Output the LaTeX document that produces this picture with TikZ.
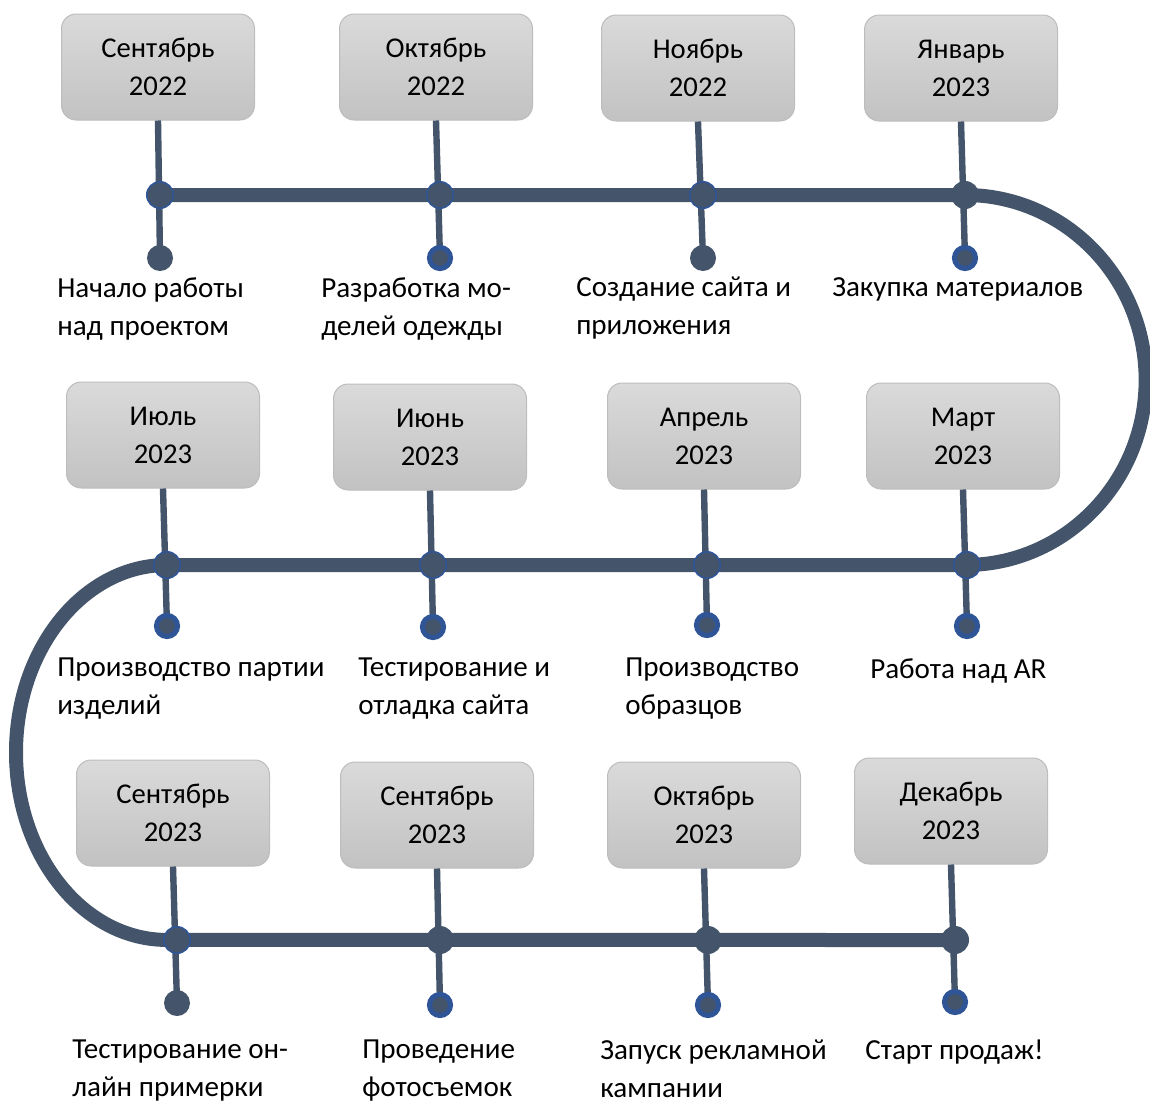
\documentclass[tikz,border=0pt]{standalone}
\usepackage{fontspec}
\setmainfont{Carlito}
\definecolor{trackc}{HTML}{44546A}
\definecolor{dotblue}{HTML}{2F5597}
\definecolor{boxtop}{HTML}{DADADA}
\definecolor{boxbot}{HTML}{C2C2C2}
\definecolor{boxline}{HTML}{BDBDBD}
\begin{document}
\begin{tikzpicture}[x=0.75pt,y=-0.75pt,
  track/.style={line width=10.5pt, draw=trackc},
  stem/.style={line width=4.8pt, draw=trackc},
  bigd/.style={circle, fill=trackc, minimum size=21pt, inner sep=0pt},
  bigb/.style={bigd, draw=dotblue, line width=1.2pt, minimum size=19.8pt},
  smalld/.style={circle, fill=trackc, minimum size=19.5pt, inner sep=0pt},
  smallb/.style={circle, fill=trackc, draw=dotblue, line width=3.8pt, minimum size=15.8pt, inner sep=0pt},
  month/.style={rounded corners=11pt, top color=boxtop, bottom color=boxbot, draw=boxline,
    line width=0.75pt, minimum width=144.75pt, minimum height=79.5pt, align=center,
    inner sep=0pt, font=\fontsize{21.5}{28.5}\selectfont},
  lbl/.style={anchor=north west, align=left, inner sep=0pt, font=\fontsize{21.8}{28.5}\selectfont}
]
\useasboundingbox (0,0) rectangle (1150,1103);

% month boxes
\node[month] (m1) at (158,67) {Сентябрь\\2022};
\node[month] (m2) at (436,67) {Октябрь\\2022};
\node[month] (m3) at (698,68) {Ноябрь\\2022};
\node[month] (m4) at (961,68) {Январь\\2023};
\node[month] (m5) at (163,435) {Июль\\2023};
\node[month] (m6) at (430,437) {Июнь\\2023};
\node[month] (m7) at (704,436) {Апрель\\2023};
\node[month] (m8) at (963,436) {Март\\2023};
\node[month] (m9) at (173,813) {Сентябрь\\2023};
\node[month] (m10) at (437,815) {Сентябрь\\2023};
\node[month] (m11) at (704,815) {Октябрь\\2023};
\node[month] (m12) at (951,811) {Декабрь\\2023};

% end points of the stems
\coordinate (s1) at (160,258);
\coordinate (s2) at (440,258);
\coordinate (s3) at (703,258);
\coordinate (s4) at (965,258);
\coordinate (s5) at (167,626);
\coordinate (s6) at (433,627);
\coordinate (s7) at (707,625);
\coordinate (s8) at (967,626);
\coordinate (s9) at (177,1003);
\coordinate (s10) at (440,1005);
\coordinate (s11) at (708,1005);
\coordinate (s12) at (955,1002);

% points on the track
\coordinate (p1) at (160,195);
\coordinate (p2) at (440,195);
\coordinate (p3) at (703,195);
\coordinate (p4) at (965,195);
\coordinate (p5) at (167,565);
\coordinate (p6) at (433,565);
\coordinate (p7) at (707,565);
\coordinate (p8) at (967,565);
\coordinate (p9) at (177,940);
\coordinate (p10) at (440,940);
\coordinate (p11) at (708,940);
\coordinate (p12) at (955,940);

% the winding track
\draw[track] (p1) -- (p4)
  arc[start angle=90, end angle=-90, x radius=135.5pt, y radius=138.75pt]
  -- (p5)
  arc[start angle=90, end angle=270, x radius=113.25pt, y radius=140.6pt]
  -- (p12);

% stems
\foreach \i in {1,...,12} \draw[stem] (m\i.south) -- (s\i);

% dots on the track
\node[bigb] (b1) at (p1) {};
\node[bigb] (b2) at (p2) {};
\node[bigb] (b3) at (p3) {};
\node[bigd] (b4) at (p4) {};
\node[bigb] (b5) at (p5) {};
\node[bigb] (b6) at (p6) {};
\node[bigb] (b7) at (p7) {};
\node[bigb] (b8) at (p8) {};
\node[bigb] (b9) at (p9) {};
\node[bigd] (b10) at (p10) {};
\node[bigd] (b11) at (p11) {};
\node[bigd] (b12) at (p12) {};

% dots at the stem ends
\node[smalld] (e1) at (s1) {};
\node[smallb] (e2) at (s2) {};
\node[smalld] (e3) at (s3) {};
\node[smallb] (e4) at (s4) {};
\node[smallb] (e5) at (s5) {};
\node[smallb] (e6) at (s6) {};
\node[smallb] (e7) at (s7) {};
\node[smallb] (e8) at (s8) {};
\node[smalld] (e9) at (s9) {};
\node[smallb] (e10) at (s10) {};
\node[smallb] (e11) at (s11) {};
\node[smallb] (e12) at (s12) {};

% captions
\node[lbl] (t1) at (57,277) {Начало работы\\над проектом};
\node[lbl] (t2) at (321,277) {Разработка мо-\\делей одежды};
\node[lbl] (t3) at (576,277) {Создание сайта и\\приложения};
\node[lbl] (t4) at (832,277) {Закупка материалов};
\node[lbl] (t5) at (57,658) {Производство партии\\изделий};
\node[lbl] (t6) at (358,658) {Тестирование и\\отладка сайта};
\node[lbl] (t7) at (625,658) {Производство\\образцов};
\node[lbl] (t8) at (870,658) {Работа над AR};
\node[lbl] (t9) at (72,1040) {Тестирование он-\\лайн примерки};
\node[lbl] (t10) at (362,1040) {Проведение\\фотосъемок};
\node[lbl] (t11) at (600,1040) {Запуск рекламной\\кампании};
\node[lbl] (t12) at (865,1040) {Старт продаж!};
\end{tikzpicture}
\end{document}
